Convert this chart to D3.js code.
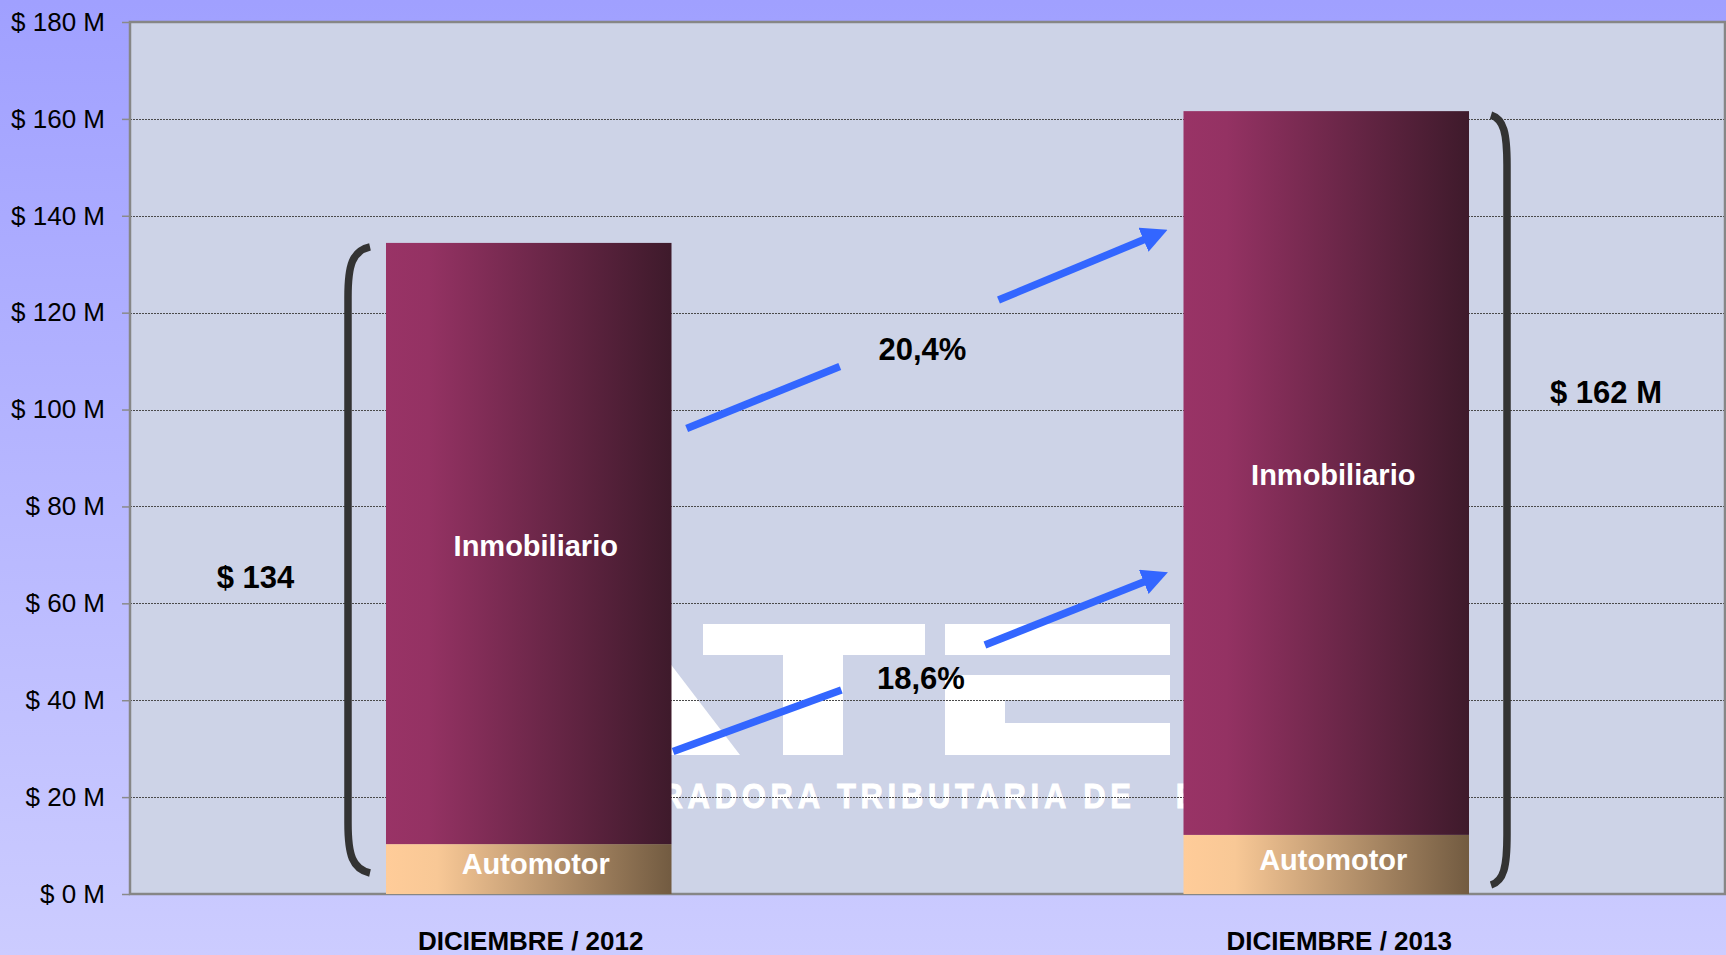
<!DOCTYPE html>
<html>
<head>
<meta charset="utf-8">
<script src="https://cdn.jsdelivr.net/npm/d3@7/dist/d3.min.js"></script>
<style>
  body { margin: 0; }
  svg { display: block; font-family: "Liberation Sans", Arial, sans-serif; }
</style>
</head>
<body>
<div id="chart"></div>
<script>
// Data (millions of $)
var categories = ["DICIEMBRE / 2012", "DICIEMBRE / 2013"];
var seriesNames = ["Automotor", "Inmobiliario"];
var automotor = [10.3, 12.2];
var inmobiliario = [124.1, 149.4];
var yTicks = [0, 20, 40, 60, 80, 100, 120, 140, 160, 180];
var totalLabels = ["$ 134", "$ 162 M"];
var growthLabels = ["20,4%", "18,6%"];

var width = 1726, height = 955;
var margin = { top: 22, right: 1, bottom: 61, left: 130 };
var plotW = width - margin.left - margin.right;
var plotH = height - margin.top - margin.bottom;

var svg = d3.select("#chart").append("svg")
    .attr("width", width)
    .attr("height", height);

var defs = svg.append("defs");

function addGradient(id, stops, vertical) {
    var g = defs.append("linearGradient").attr("id", id)
        .attr("x1", 0).attr("y1", 0)
        .attr("x2", vertical ? 0 : 1).attr("y2", vertical ? 1 : 0);
    stops.forEach(function (s) {
        g.append("stop").attr("offset", s[0]).attr("stop-color", s[1]);
    });
}
addGradient("bgGrad", [[0, "#a0a0ff"], [1, "#ccccff"]], true);
addGradient("gradInmobiliario", [[0, "#993366"], [0.15, "#943263"], [1, "#3e1a2b"]], false);
addGradient("gradAutomotor", [[0, "#ffcc99"], [0.18, "#f8c896"], [1, "#725b41"]], false);

// arrow head
defs.append("marker")
    .attr("id", "arrowHead")
    .attr("markerUnits", "userSpaceOnUse")
    .attr("viewBox", "0 0 26 26")
    .attr("markerWidth", 26).attr("markerHeight", 26)
    .attr("refX", 6).attr("refY", 13)
    .attr("orient", "auto")
    .append("path")
    .attr("d", "M0,0 L26,13 L0,26 Z")
    .attr("fill", "#3366ff");

// background
svg.append("rect")
    .attr("width", width).attr("height", height)
    .attr("fill", "url(#bgGrad)");

var g = svg.append("g")
    .attr("transform", "translate(" + margin.left + "," + margin.top + ")");

g.append("rect")
    .attr("width", plotW).attr("height", plotH)
    .attr("fill", "#cdd3e7");

// Scales
var x = d3.scaleBand()
    .domain(categories)
    .range([0, plotW])
    .paddingInner(0.642)
    .paddingOuter(0.321);

// continuous position across the plot, used for annotations (band i center = i + 0.5)
var u = d3.scaleLinear().domain([0, 2]).range([0, plotW]);

var y = d3.scaleLinear()
    .domain([0, 180])
    .range([plotH, 0]);

// Watermark (behind grid and bars)
var wm = g.append("g")
    .attr("class", "watermark")
    .attr("transform", "translate(" + (-margin.left) + "," + (-margin.top) + ")")
    .attr("fill", "#ffffff");

wm.append("polygon").attr("points", "612,624 640,624 740,755 470,755");
wm.append("rect").attr("x", 703).attr("y", 624).attr("width", 222).attr("height", 31);
wm.append("rect").attr("x", 783).attr("y", 655).attr("width", 60).attr("height", 100);
wm.append("rect").attr("x", 945).attr("y", 624).attr("width", 225).attr("height", 31);
wm.append("rect").attr("x", 945).attr("y", 675).attr("width", 60).attr("height", 80);
wm.append("rect").attr("x", 945).attr("y", 675).attr("width", 225).attr("height", 25);
wm.append("rect").attr("x", 945).attr("y", 723).attr("width", 225).attr("height", 32);

var wmString = "ADMINISTRADORA TRIBUTARIA DE   ENTRE RIOS";
var wmScale = 0.86;
var wmText = wm.append("text")
    .attr("x", 0).attr("y", 0)
    .style("font-size", "36px")
    .style("font-weight", "bold")
    .style("letter-spacing", "5.5px")
    .style("white-space", "pre")
    .attr("stroke", "#ffffff")
    .attr("stroke-width", 1)
    .text(wmString);
var tPos = wmText.node().getStartPositionOfChar(wmString.indexOf("TRIBUTARIA")).x;
wmText.attr("transform", "translate(" + (837 - wmScale * tPos) + ",808) scale(" + wmScale + ",1)");

// Gridlines
g.append("g")
    .attr("class", "grid")
    .selectAll("line")
    .data(yTicks.filter(function (d) { return d > 0 && d < 180; }))
    .enter().append("line")
    .attr("x1", 0).attr("x2", plotW)
    .attr("y1", function (d) { return Math.round(y(d)) + 0.5; })
    .attr("y2", function (d) { return Math.round(y(d)) + 0.5; })
    .attr("stroke", "#4a4a4a")
    .attr("stroke-width", 1)
    .attr("stroke-dasharray", "2,1");

// Plot border
g.append("rect")
    .attr("width", plotW).attr("height", plotH)
    .attr("fill", "none")
    .attr("stroke", "#868686")
    .attr("stroke-width", 2.5);

// Y axis
var yAxis = d3.axisLeft(y)
    .tickValues(yTicks)
    .tickSize(8)
    .tickPadding(17)
    .tickFormat(function (d) { return "$ " + d + " M"; });

var yAxisG = g.append("g").attr("class", "y_axis").call(yAxis);
yAxisG.select(".domain").remove();
yAxisG.selectAll(".tick line").attr("stroke", "#8a8a8a").attr("stroke-width", 1.5);
yAxisG.selectAll(".tick text")
    .attr("fill", "#000")
    .style("font-size", "26px")
    .style("font-family", "'Liberation Sans', Arial, sans-serif");

// Stacked bars
var rows = categories.map(function (c, i) {
    return { category: c, Automotor: automotor[i], Inmobiliario: inmobiliario[i] };
});
var stacked = d3.stack().keys(seriesNames)(rows);
var fills = { Automotor: "url(#gradAutomotor)", Inmobiliario: "url(#gradInmobiliario)" };
var labelNudge = { Automotor: -5, Inmobiliario: 2 };

var layers = g.selectAll(".layer")
    .data(stacked)
    .enter().append("g")
    .attr("class", "layer");

layers.selectAll("rect")
    .data(function (d) { return d; })
    .enter().append("rect")
    .attr("x", function (d) { return x(d.data.category); })
    .attr("y", function (d) { return y(d[1]); })
    .attr("width", x.bandwidth())
    .attr("height", function (d) { return y(d[0]) - y(d[1]); })
    .attr("fill", function () { return fills[d3.select(this.parentNode).datum().key]; });

layers.each(function (layer) {
    d3.select(this).selectAll("text")
        .data(layer)
        .enter().append("text")
        .attr("x", function (d) { return x(d.data.category) + x.bandwidth() / 2 + 7; })
        .attr("y", function (d) { return (y(d[0]) + y(d[1])) / 2 + labelNudge[layer.key]; })
        .attr("dy", "0.36em")
        .attr("text-anchor", "middle")
        .attr("fill", "#ffffff")
        .style("font-size", "29px")
        .style("font-weight", "bold")
        .text(layer.key);
});

// Category labels
var catDx = [2, 13];
g.selectAll(".x_label")
    .data(categories)
    .enter().append("text")
    .attr("class", "x_label")
    .attr("x", function (d, i) { return x(d) + x.bandwidth() / 2 + catDx[i]; })
    .attr("y", plotH + 56)
    .attr("text-anchor", "middle")
    .attr("fill", "#000")
    .style("font-size", "26px")
    .style("font-weight", "bold")
    .text(function (d) { return d; });

// Brackets around the totals
var totals = categories.map(function (c, i) { return automotor[i] + inmobiliario[i]; });
var brackets = [
    { spine: x(categories[0]) - 38, end: x(categories[0]) - 16, top: y(totals[0]) + 4, bottom: y(0) - 21 },
    { spine: x(categories[1]) + x.bandwidth() + 38, end: x(categories[1]) + x.bandwidth() + 22, top: y(totals[1]) + 4, bottom: y(0) - 9 }
];

g.selectAll(".bracket")
    .data(brackets)
    .enter().append("path")
    .attr("class", "bracket")
    .attr("d", function (b) {
        var k = (b.end - b.spine) * 0.2;
        return "M" + b.end + "," + b.top +
            " C" + (b.spine + k) + "," + (b.top + 4) + " " + b.spine + "," + (b.top + 18) + " " + b.spine + "," + (b.top + 50) +
            " L" + b.spine + "," + (b.bottom - 50) +
            " C" + b.spine + "," + (b.bottom - 18) + " " + (b.spine + k) + "," + (b.bottom - 4) + " " + b.end + "," + b.bottom;
    })
    .attr("fill", "none")
    .attr("stroke", "#333333")
    .attr("stroke-width", 7.5);

// Total labels
var totalPos = [[0.1574, 63.1], [1.8508, 101.4]];
g.selectAll(".total_label")
    .data(totalLabels)
    .enter().append("text")
    .attr("class", "total_label")
    .attr("x", function (d, i) { return u(totalPos[i][0]); })
    .attr("y", function (d, i) { return y(totalPos[i][1]); })
    .attr("text-anchor", "middle")
    .attr("fill", "#000")
    .style("font-size", "31px")
    .style("font-weight", "bold")
    .text(function (d) { return d; });

// Growth arrows (two pieces each, broken around the label)
var growthArrows = [
    { a: [0.698, 96.1], b: [0.890, 108.9], c: [1.089, 122.6], tip: [1.301, 137.1], text: [0.9937, 110.3] },
    { a: [0.681, 29.4], b: [0.892, 42.1], c: [1.072, 51.4], tip: [1.3015, 66.4], text: [0.9918, 42.3] }
];

growthArrows.forEach(function (ar, i) {
    var p = function (q) { return [u(q[0]), y(q[1])]; };
    var A = p(ar.a), B = p(ar.b), C = p(ar.c), T = p(ar.tip);
    var dx = T[0] - C[0], dy = T[1] - C[1], len = Math.sqrt(dx * dx + dy * dy);
    var E = [T[0] - dx / len * 20, T[1] - dy / len * 20];

    g.append("line")
        .attr("x1", A[0]).attr("y1", A[1]).attr("x2", B[0]).attr("y2", B[1])
        .attr("stroke", "#3366ff").attr("stroke-width", 7.5);
    g.append("line")
        .attr("x1", C[0]).attr("y1", C[1]).attr("x2", E[0]).attr("y2", E[1])
        .attr("stroke", "#3366ff").attr("stroke-width", 7.5)
        .attr("marker-end", "url(#arrowHead)");

    g.append("text")
        .attr("x", u(ar.text[0]))
        .attr("y", y(ar.text[1]))
        .attr("text-anchor", "middle")
        .attr("fill", "#000")
        .style("font-size", "31px")
        .style("font-weight", "bold")
        .text(growthLabels[i]);
});
</script>
</body>
</html>
